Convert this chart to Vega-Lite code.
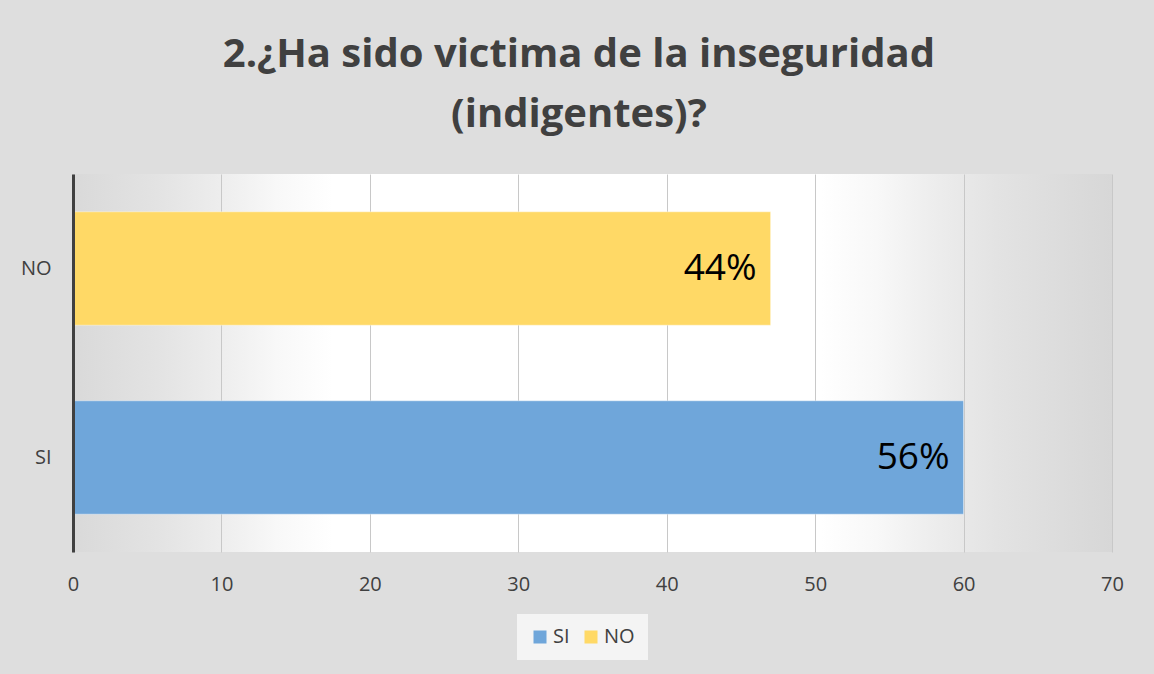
{
  "$schema": "https://vega.github.io/schema/vega-lite/v6.json",
  "width": 1039,
  "height": 378,
  "autosize": {"type": "pad"},
  "padding": {"top": 35, "left": 20, "right": 31, "bottom": 14},
  "background": "#dedede",
  "title": {
    "text": ["2.¿Ha sido victima de la inseguridad", "(indigentes)?"],
    "font": "Open Sans",
    "fontSize": 40,
    "fontWeight": "bold",
    "color": "#404040",
    "anchor": "middle",
    "frame": "bounds",
    "lineHeight": 60,
    "offset": 39,
    "dx": 7
  },
  "data": {
    "values": [
      {"respuesta": "SI", "valor": 60, "etiqueta": "56%"},
      {"respuesta": "NO", "valor": 47, "etiqueta": "44%"}
    ]
  },
  "layer": [
    {
      "mark": {"type": "bar", "stroke": "#ffffff", "strokeOpacity": 0.4, "strokeWidth": 1},
      "encoding": {
        "y": {
          "field": "respuesta",
          "type": "nominal",
          "sort": ["NO", "SI"],
          "title": null,
          "scale": {"paddingInner": 0.4, "paddingOuter": 0.2},
          "axis": {
            "labelFont": "Open Sans",
            "labelFontSize": 20,
            "labelColor": "#404040",
            "labelPadding": 22,
            "ticks": false,
            "domainColor": "#404040",
            "domainWidth": 3,
            "labelAngle": 0,
            "zindex": 1
          }
        },
        "x": {
          "field": "valor",
          "type": "quantitative",
          "title": null,
          "scale": {"domain": [0, 70], "nice": false},
          "axis": {
            "values": [0, 10, 20, 30, 40, 50, 60, 70],
            "labelFont": "Open Sans",
            "labelFontSize": 20,
            "labelColor": "#404040",
            "labelPadding": 22,
            "labelFlush": false,
            "ticks": false,
            "domain": false,
            "grid": true,
            "gridColor": "#c8c8c8",
            "gridWidth": 1
          }
        },
        "color": {
          "field": "respuesta",
          "type": "nominal",
          "scale": {"domain": ["SI", "NO"], "range": ["#6fa6da", "#ffd966"]},
          "legend": {
            "title": null,
            "orient": "none",
            "legendX": 444,
            "legendY": 440,
            "direction": "horizontal",
            "symbolType": "square",
            "symbolSize": 169,
            "symbolStrokeWidth": 0,
            "labelFont": "Open Sans",
            "labelFontSize": 20,
            "labelColor": "#404040",
            "labelOffset": 3,
            "columnPadding": 11,
            "padding": 13,
            "fillColor": "#f4f4f4"
          }
        }
      }
    },
    {
      "mark": {
        "type": "text",
        "align": "right",
        "baseline": "middle",
        "dx": -14,
        "font": "Open Sans",
        "fontSize": 37,
        "color": "#000000"
      },
      "encoding": {
        "y": {"field": "respuesta", "type": "nominal", "sort": ["NO", "SI"]},
        "x": {"field": "valor", "type": "quantitative"},
        "text": {"field": "etiqueta"}
      }
    }
  ],
  "config": {
    "view": {
      "stroke": null,
      "fill": {
        "gradient": "linear",
        "x1": 0, "y1": 0, "x2": 1, "y2": 0,
        "stops": [
          {"offset": 0, "color": "#d9d9d9"},
          {"offset": 0.081, "color": "#e3e3e3"},
          {"offset": 0.141, "color": "#ededed"},
          {"offset": 0.196, "color": "#f8f8f8"},
          {"offset": 0.25, "color": "#ffffff"},
          {"offset": 0.72, "color": "#ffffff"},
          {"offset": 0.774, "color": "#f8f8f8"},
          {"offset": 0.829, "color": "#ededed"},
          {"offset": 0.889, "color": "#e3e3e3"},
          {"offset": 0.97, "color": "#dadada"},
          {"offset": 1, "color": "#d7d7d7"}
        ]
      }
    }
  }
}
